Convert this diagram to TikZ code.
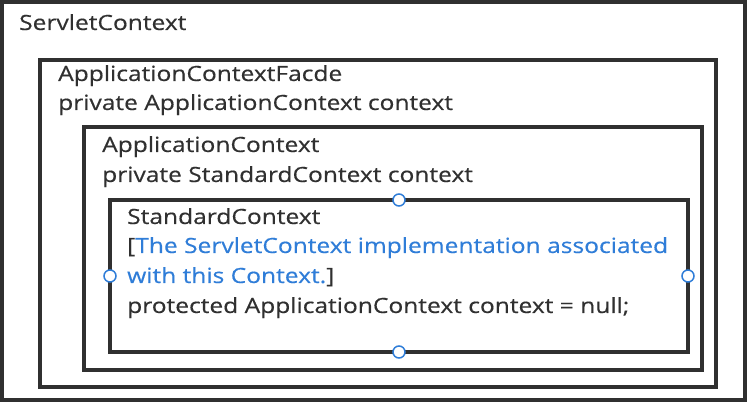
\documentclass[tikz,border=0pt]{standalone}
\usepackage{fontspec}
\setmainfont{Open Sans}[FakeStretch=1.17,FakeBold=0.4]
\definecolor{ink}{HTML}{303030}
\definecolor{linkblue}{HTML}{2F7DD8}
\begin{document}
\begin{tikzpicture}[x=1pt,y=-1pt,
  frame/.style={draw=ink,line width=3.3pt,anchor=north west,inner sep=0pt,outer sep=0pt},
  label/.style={anchor=base west,inner sep=0pt,text=ink,font=\fontsize{21}{24}\selectfont},
  handle/.style={circle,draw=linkblue,fill=white,line width=1.5pt,minimum size=12pt,inner sep=0pt}]
\useasboundingbox (0,0) rectangle (748,403);
\fill[white] (0,0) rectangle (748,403);
\node[frame,minimum width=743pt,minimum height=398pt] (b1) at (2,2) {};
\node[frame,minimum width=676pt,minimum height=327pt] (b2) at (40,60) {};
\node[frame,minimum width=618pt,minimum height=243pt] (b3) at (84,127) {};
\node[frame,minimum width=578pt,minimum height=152pt] (b4) at (110,200) {};
\node[label] (t1) at (19,30) {ServletContext};
\node[label] (t2a) at (58,81) {ApplicationContextFacde};
\node[label] (t2b) at (58,110) {private ApplicationContext context};
\node[label] (t3a) at (102,152) {ApplicationContext};
\node[label] (t3b) at (102,182) {private StandardContext context};
\node[label] (t4a) at (127,224) {StandardContext};
\node[label] (t4b) at (127,253) {[\textcolor{linkblue}{The ServletContext implementation associated}};
\node[label] (t4c) at (127,283) {\textcolor{linkblue}{with this Context.}]};
\node[label] (t4d) at (127,313) {protected ApplicationContext context = null;};
\node[handle] (hn) at (b4.north) {};
\node[handle] (hs) at (b4.south) {};
\node[handle] (hw) at (b4.west) {};
\node[handle] (he) at (b4.east) {};
\end{tikzpicture}
\end{document}
